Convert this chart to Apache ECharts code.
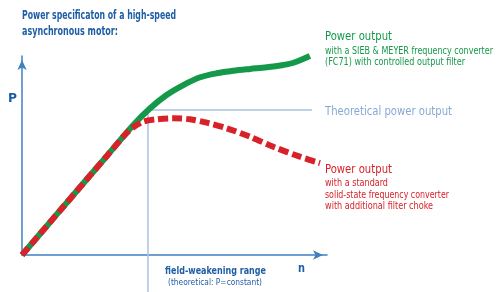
<!DOCTYPE html>
<html>
<head>
<meta charset="utf-8">
<script src="https://cdn.jsdelivr.net/npm/echarts@6/dist/echarts.min.js"></script>
<style>
  html, body { margin: 0; padding: 0; background: #fff; }
  #chart { width: 498px; height: 292px; }
</style>
</head>
<body>
<div id="chart"></div>
<script>
// speed n (0..100) / power P (0..100)
let sebPower = [
    [0, 0], [12.5, 22.4], [27.9, 49.9], [36.5, 65.3], [42.0, 73.7], [47.4, 80.4],
    [52.9, 85.4], [58.4, 89.3], [63.8, 91.3], [69.3, 92.6], [74.8, 93.5], [80.2, 94.3],
    [85.7, 95.5], [89.0, 96.6], [94.4, 100]
]
let standardPower = [
    [0, 0], [12.5, 22.4], [27.9, 49.9], [34.0, 60.8], [36.5, 64.2], [39.8, 67.0],
    [44.2, 68.2], [49.6, 68.7], [55.1, 68.2], [60.6, 66.5], [67.1, 63.7], [74.8, 59.4],
    [82.4, 54.4], [91.1, 49.4], [97.7, 46.2]
]
let theoretical = [[41.3, 72.9], [95.1, 72.9]]
let fieldWeakening = [[41.3, 72.9], [41.3, -18.6]]

let titleLines = ['Power specificaton of a high-speed', 'asynchronous motor:']
let sebLabel = ['Power output', 'with a SIEB & MEYER frequency converter', '(FC71) with controlled output filter']
let theoryLabel = 'Theoretical power output'
let stdLabel = ['Power output', 'with a standard', 'solid-state frequency converter', 'with additional filter choke']
let rangeLabel = ['field-weakening range', '(theoretical: P=constant)']

let blue = '#1f5ea6'
let axisBlue = '#3f80c0'
let lightBlue = '#a7c2e0'
let lightBlueText = '#86a9d4'
let green = '#14994a'
let red = '#d8222a'
let family = '"DejaVu Sans Condensed", "Liberation Sans", sans-serif'

let myChart = echarts.init(document.getElementById('chart'), null, { renderer: 'canvas' })

let measureCtx = document.createElement('canvas').getContext('2d')

// text squeezed horizontally to the width it takes in the picture
function txt (x, y, width, text, size, color, weight) {
    weight = weight || 'normal'
    measureCtx.font = weight + ' ' + size + 'px ' + family
    let w = measureCtx.measureText(text).width
    return {
        type: 'text', x: x, y: y, scaleX: width / w, silent: true,
        style: {
            text: text, fontSize: size, fill: color, fontWeight: weight, fontFamily: family,
            align: 'left', verticalAlign: 'middle'
        }
    }
}

let graphics = [
    txt(22, 16, 154, titleLines[0], 12, blue, 'bold'),
    txt(22, 32, 96, titleLines[1], 12, blue, 'bold'),
    txt(8, 99, 9, 'P', 12, blue, 'bold'),
    txt(298, 269, 7, 'n', 12, blue, 'bold'),
    txt(165, 271, 101, rangeLabel[0], 11, blue, 'bold'),
    txt(168, 283, 94, rangeLabel[1], 9.5, blue),
    txt(325, 37, 67, sebLabel[0], 12, green),
    txt(325, 51, 168, sebLabel[1], 10, green),
    txt(325, 62, 140, sebLabel[2], 10, green),
    txt(325, 112, 127, theoryLabel, 11.5, lightBlueText),
    txt(325, 170, 67, stdLabel[0], 12, red),
    txt(325, 183, 63, stdLabel[1], 10, red),
    txt(325, 195, 124, stdLabel[2], 10, red),
    txt(325, 206, 108, stdLabel[3], 10, red)
]

let axisStyle = {
    show: true, onZero: false, symbol: ['none', 'arrow'], symbolSize: [7, 10], symbolOffset: [0, -4],
    lineStyle: { color: axisBlue, width: 1.5 }
}

let option = {
    animation: false,
    grid: { left: 22, top: 56, width: 305, height: 199 },
    xAxis: {
        type: 'value', min: 0, max: 100, axisLine: axisStyle,
        axisTick: { show: false }, axisLabel: { show: false }, splitLine: { show: false }
    },
    yAxis: {
        type: 'value', min: 0, max: 100, axisLine: axisStyle,
        axisTick: { show: false }, axisLabel: { show: false }, splitLine: { show: false }
    },
    series: [
        {
            type: 'line', data: theoretical, symbol: 'none', clip: false,
            lineStyle: { color: lightBlue, width: 1.5 }
        },
        {
            type: 'line', data: fieldWeakening, symbol: 'none', clip: false,
            lineStyle: { color: lightBlue, width: 1.5 }
        },
        {
            type: 'line', data: sebPower, symbol: 'none', smooth: 0.3, clip: false,
            lineStyle: { color: green, width: 6 }
        },
        {
            type: 'line', data: standardPower, symbol: 'none', smooth: 0.3, clip: false,
            lineStyle: { color: red, width: 6, type: [10, 4], cap: 'butt' }
        }
    ],
    graphic: graphics
}

myChart.setOption(option)
</script>
</body>
</html>
